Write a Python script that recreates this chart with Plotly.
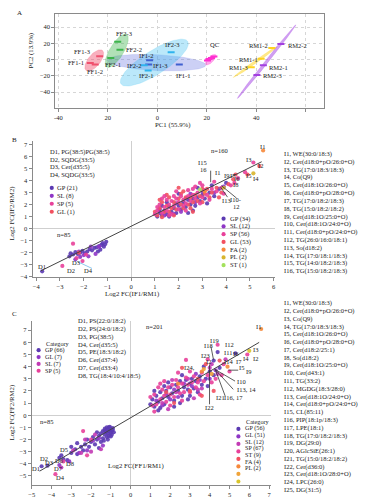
import numpy as np
import plotly.graph_objects as go

W, H = 367, 504
FONT = "Liberation Serif"
TXT = "#222222"

# ---------------- Panel A : PCA ----------------
pca_label = ["FF1-1", "FF1-2", "FF1-3", "FF2-1", "FF2-2", "FF2-3",
             "IF1-1", "IF1-2", "IF1-3", "IF2-1", "IF2-2", "IF2-3",
             "QC", "QC", "QC", "QC",
             "RM1-1", "RM1-2", "RM1-3", "RM2-1", "RM2-2", "RM2-3"]
pca_group = ["FF1", "FF1", "FF1", "FF2", "FF2", "FF2",
             "IF1", "IF1", "IF1", "IF2", "IF2", "IF2",
             "QC", "QC", "QC", "QC",
             "RM1", "RM1", "RM1", "RM2", "RM2", "RM2"]
pca_pc1 = [-27.1, -25.1, -23.3, -18.8, -15.1, -16.0,
           8.9, -3.1, -3.5, -3.7, -5.3, 5.6,
           20.3, 20.9, 21.9, 22.9,
           42.0, 46.3, 38.0, 42.9, 50.0, 40.3]
pca_pc2 = [-4.1, -6.1, 4.1, 2.0, 12.3, 22.0,
           -6.1, -0.8, -6.0, -13.5, -7.0, 9.0,
           -1.2, 0.8, 2.0, 4.0,
           1.2, 14.3, -9.4, -7.0, 19.2, -18.8]

# confidence ellipses: centre and two semi-axis vectors (data units)
ell_group = ["IF1", "IF2", "FF2", "FF1", "QC", "RM1", "RM2"]
ell_cx = [-0.4, -1.2, -16.4, -25.5, 21.6, 39.6, 44.2]
ell_cy = [-3.7, -3.7, 11.0, -1.0, 0.0, -3.0, -2.5]
ell_ux = [20.0, 13.5, 4.0, 3.3, 2.0, 8.8, 11.8]
ell_uy = [-3.0, 26.2, 20.2, 12.4, 6.1, 19.0, 45.4]
ell_vx = [0.0, 2.6, 2.4, 1.9, 0.8, 0.5, 0.5]
ell_vy = [9.8, -12.4, -4.4, -4.6, -2.5, -1.0, -1.1]

# ---------------- Panel B : IF1/RM1 vs IF2/RM2 ----------------
b_neg_gp = [(-3.75, -3.55), (-2.6, -2.3), (-2.55, -2.05), (-2.45, -2.15), (-2.35, -1.95),
            (-2.25, -2.1), (-2.15, -2.0), (-2.05, -1.85), (-1.95, -2.05), (-1.85, -1.9),
            (-1.75, -1.7), (-1.65, -1.8), (-1.55, -1.6), (-1.45, -1.55), (-1.4, -1.9),
            (-1.35, -1.45), (-1.3, -1.75), (-1.25, -1.35), (-1.2, -1.2), (-1.15, -1.5),
            (-1.1, -1.3), (-1.05, -1.1)]
b_neg_sl = [(-2.15, -2.35), (-2.0, -2.2), (-1.5, -2.1), (-1.8, -2.3), (-2.2, -1.9),
            (-1.35, -1.5), (-2.35, -2.55), (-1.7, -1.5)]
b_neg_sp = [(-2.45, -1.25), (-2.9, -3.1), (-2.05, -2.7), (-2.3, -2.45), (-1.9, -2.15)]
b_neg_gl = [(-2.2, -2.0)]

b_pos_gp = [(1.1, 1.0), (1.2, 1.3), (1.3, 1.1), (1.4, 1.5), (1.5, 1.2), (1.6, 1.0), (1.7, 1.4),
            (1.8, 1.7), (1.9, 1.3), (2.0, 1.9), (2.1, 1.6), (2.2, 2.2), (2.3, 1.8), (2.4, 2.4),
            (2.5, 2.0), (2.6, 2.5), (2.7, 1.9), (2.8, 2.6), (2.9, 2.3), (3.0, 2.8), (3.1, 2.5),
            (3.3, 3.0), (3.5, 2.7), (3.7, 3.3), (2.0, 2.9), (1.3, 1.9), (1.5, 2.2), (2.6, 1.5),
            (3.2, 2.1), (1.2, 1.6), (2.4, 1.3), (2.8, 3.4), (4.0, 3.8), (3.4, 3.6)]
b_pos_sl = [(1.2, 1.4), (1.6, 1.8), (1.9, 2.1), (2.3, 2.5), (2.7, 2.2), (3.0, 3.1), (1.4, 1.1),
            (2.1, 1.4), (2.5, 2.9), (3.5, 3.0), (1.8, 1.2), (3.9, 3.5)]
b_pos_sp = [(1.0, 1.2), (1.1, 1.5), (1.2, 2.0), (1.3, 1.3), (1.4, 1.8), (1.5, 1.5), (1.5, 2.4),
            (1.6, 2.0), (1.7, 1.2), (1.7, 2.3), (1.8, 1.9), (1.9, 2.5), (2.0, 1.6), (2.0, 2.2),
            (2.1, 2.7), (2.2, 1.9), (2.2, 2.4), (2.3, 2.1), (2.4, 2.7), (2.5, 2.3), (2.6, 2.8),
            (2.7, 2.5), (2.8, 3.0), (2.9, 2.1), (3.0, 2.6), (3.1, 3.2), (3.2, 2.8), (3.4, 3.3),
            (3.6, 3.1), (3.8, 3.4), (4.2, 3.6), (4.5, 4.2), (4.8, 4.7), (3.0, 3.6), (2.4, 3.2),
            (1.3, 2.5), (1.9, 3.1), (2.7, 3.5), (3.9, 2.9), (1.6, 1.1), (2.3, 1.5), (1.1, 1.8),
            (4.35, 3.8), (3.3, 2.4), (1.8, 2.7), (2.6, 3.3), (5.15, 5.5), (1.4, 2.7), (2.9, 3.8),
            (3.5, 3.9)]
b_pos_gl = [(1.0, 1.4), (1.1, 1.1), (1.2, 1.7), (1.3, 2.2), (1.4, 1.4), (1.5, 1.9), (1.6, 2.6),
            (1.6, 1.4), (1.7, 1.7), (1.8, 2.2), (1.9, 1.6), (2.0, 2.5), (2.1, 2.0), (2.1, 2.9),
            (2.2, 1.7), (2.3, 2.6), (2.4, 2.0), (2.5, 2.6), (2.5, 1.7), (2.6, 2.2), (2.7, 2.8),
            (2.8, 2.3), (2.9, 2.7), (3.0, 2.2), (3.1, 2.9), (3.2, 3.3), (3.3, 2.6), (3.4, 3.0),
            (3.6, 3.4), (3.8, 3.0), (4.1, 3.7), (4.3, 4.1), (3.0, 3.3), (2.2, 3.1), (1.5, 2.8),
            (1.2, 2.4), (2.6, 1.4), (3.7, 2.6), (5.4, 5.2), (4.9, 4.5), (4.4, 4.5), (2.0, 3.4),
            (1.8, 1.1), (1.3, 0.95)]
b_pos_fa = [(5.56, 6.5), (3.1, 3.1)]
b_pos_pl = [(5.15, 4.6), (3.9, 3.4)]
b_pos_st = [(2.9, 3.25)]
b_fit = (0.975, 0.2, -3.8, 5.5)   # slope, intercept, x from, x to

b_d_list = ["D1, PG(38:5)PG(38:5)", "D2, SQDG(33:5)", "D3, Cer(d35:5)", "D4, SQDG(33:5)"]
b_leg_left = ["GP (21)", "SL (8)", "SP (5)", "GL (1)"]
b_leg_right = ["GP (34)", "SL (12)", "SP (56)", "GL (53)", "FA (2)", "PL (2)", "ST (1)"]
b_i_list = ["I1, WE(30:0/18:3)", "I2, Cer(d18:0+pO/26:0+O)", "I3, TG(17:0/18:3/18:3)", "I4, Co(Q9)",
            "I5, Cer(d18:1O/26:0+O)", "I6, Cer(d18:0+pO/28:0+O)", "I7, TG(17:0/18:2/18:3)",
            "I8, TG(15:0/18:2/18:2)", "I9, Cer(d18:1O/25:0+O)", "I10, Cer(d18:1O/24:0+O)",
            "I11, Cer(d18:0+pO/24:0+O)", "I12, TG(26:0/16:0/18:1)", "I13, So(d18:2)",
            "I14, TG(17:0/18:1/18:3)", "I15, TG(14:0/18:2/18:3)", "I16, TG(15:0/18:2/18:3)"]

# ---------------- Panel C : FF1/RM1 vs FF2/RM2 ----------------
c_neg_gp = [(-4.5, -4.2), (-4.2, -4.15), (-3.6, -3.5), (-3.4, -3.6), (-3.2, -3.7), (-3.5, -3.3),
            (-3.0, -3.1), (-2.8, -2.8), (-2.7, -3.2), (-2.5, -2.6), (-2.4, -2.9), (-2.3, -2.4),
            (-2.2, -2.0), (-2.1, -2.6), (-2.0, -2.2), (-1.9, -1.8), (-1.8, -2.4), (-1.7, -2.0),
            (-1.6, -2.7), (-1.6, -1.7), (-1.5, -2.2), (-1.5, -1.5), (-1.4, -1.9), (-1.4, -1.3),
            (-1.3, -1.6), (-1.3, -1.1), (-1.25, -1.4), (-1.2, -1.8), (-1.2, -1.2), (-1.15, -1.5),
            (-1.1, -1.0), (-1.1, -1.3), (-1.1, -1.7), (-1.05, -1.2), (-1.0, -1.45), (-1.0, -1.1),
            (-0.95, -1.3), (-0.95, -1.6), (-0.9, -1.05), (-0.9, -1.2), (-0.85, -1.4), (-1.2, -1.0),
            (-1.3, -1.25), (-1.0, -1.75), (-1.15, -2.0), (-1.35, -2.1), (-1.7, -1.4), (-2.7, -2.3),
            (-3.0, -2.6), (-1.05, -0.95)]
c_neg_gl = [(-3.6, -4.1), (-3.1, -3.8), (-2.2, -2.9), (-1.9, -2.1), (-1.4, -2.5), (-2.6, -3.1),
            (-1.6, -1.9)]
c_neg_sl = [(-2.5, -3.1), (-2.0, -3.0), (-1.8, -1.6), (-2.9, -2.9), (-3.5, -4.3), (-2.3, -2.0),
            (-1.5, -2.8)]
c_neg_sp = [(-2.4, -1.3), (-3.8, -4.85), (-2.2, -3.3), (-3.4, -3.8), (-2.0, -2.0)]

c_pos_gp = [(1.0, 0.9), (1.1, 1.3), (1.2, 0.7), (1.3, 1.6), (1.4, 1.1), (1.5, 1.9), (1.6, 1.4),
            (1.7, 0.9), (1.8, 2.0), (1.9, 1.5), (2.0, 2.3), (2.1, 1.8), (2.2, 1.2), (2.3, 2.5),
            (2.4, 2.0), (2.5, 2.8), (2.6, 1.6), (2.7, 2.3), (2.8, 2.9), (2.9, 2.1), (3.0, 2.6),
            (3.1, 3.0), (3.2, 2.2), (3.3, 2.8), (3.5, 3.2), (3.6, 2.5), (3.8, 3.0), (4.0, 3.6),
            (4.2, 3.3), (2.2, 0.7), (2.9, 1.3), (3.4, 1.9), (1.5, 0.6), (1.2, 2.0), (2.6, 3.3),
            (4.4, 5.2), (5.3, 5.1), (4.2, 4.5), (3.7, 4.0), (1.9, 2.7), (2.5, 1.0), (3.0, 1.6),
            (1.4, 0.4), (3.9, 2.4), (1.7, 2.4), (4.5, 3.9)]
c_pos_gl = [(1.3, 1.2), (1.8, 1.7), (2.2, 2.1), (2.7, 2.6), (3.1, 2.4), (3.5, 2.9), (4.0, 3.0),
            (2.4, 1.5), (1.6, 0.8), (3.3, 3.4), (4.3, 3.7), (2.0, 1.3)]
c_pos_sl = [(1.6, 1.0), (2.3, 1.9), (2.9, 3.0), (3.4, 2.1), (4.0, 3.9), (4.8, 4.6), (1.9, 0.5),
            (3.6, 2.2), (2.1, 2.9), (3.2, 1.4), (4.1, 4.2), (4.4, 3.4)]
c_pos_sp = [(1.0, 1.5), (1.1, 0.8), (1.2, 1.7), (1.3, 0.9), (1.4, 2.3), (1.5, 1.3), (1.6, 2.1),
            (1.7, 1.6), (1.8, 1.1), (1.9, 2.3), (2.0, 1.7), (2.1, 2.5), (2.2, 1.5), (2.3, 2.9),
            (2.4, 2.3), (2.5, 1.8), (2.6, 2.6), (2.7, 1.9), (2.8, 3.1), (2.9, 2.5), (3.0, 1.9),
            (3.1, 2.7), (3.2, 3.2), (3.3, 2.3), (3.4, 2.7), (3.6, 3.5), (3.7, 2.8), (3.9, 3.3),
            (4.1, 2.7), (4.3, 3.0), (2.8, 4.55), (1.7, 2.8), (2.4, 3.5), (1.2, 0.3), (3.5, 1.7),
            (4.4, 5.8), (5.9, 5.0), (4.7, 4.2), (5.0, 3.6), (3.9, 4.6), (2.0, 0.8), (3.0, 3.6),
            (1.5, 2.6), (2.6, 1.2), (4.6, 3.3)]
c_pos_st = [(3.4, 3.0), (3.8, 4.2), (2.2, 1.0), (4.5, 4.5), (3.0, 2.0), (3.6, 1.6), (4.2, 2.0),
            (2.6, 3.9), (1.8, 1.9)]
c_pos_fa = [(6.6, 7.1), (3.6, 3.6), (4.9, 4.0), (2.4, 2.6)]
c_pos_pl = [(3.7, 3.8), (4.1, 3.4)]
c_pos_yl = [(6.0, 5.3)]
c_fit = (0.955, -0.21, -4.6, 6.5)

c_d_list = ["D1, PS(22:0/18:2)", "D2, PS(24:0/18:2)", "D3, PG(38:5)", "D4, Cer(d35:5)",
            "D5, PE(18:3/18:2)", "D6, Cer(d37:4)", "D7, Cer(d33:4)", "D8, TG(18:4/10:4/18:5)"]
c_leg_left = ["GP (66)", "GL (7)", "SL (7)", "SP (5)"]
c_leg_right = ["GP (56)", "GL (51)", "SL (12)", "SP (67)", "ST (9)", "FA (4)", "PL (2)"]
c_i_list = ["I1, WE(30:0/18:3)", "I2, Cer(d18:0+pO/26:0+O)", "I3, Co(Q9)", "I4, TG(17:0/18:3/18:3)",
            "I5, Cer(d18:1O/26:0+O)", "I6, Cer(d18:0+pO/28:0+O)", "I7, Cer(d18:2/25:1)",
            "I8, So(d18:2)", "I9, Cer(d18:1O/25:0+O)", "I10, Cer(d43:1)", "I11, TG(33:2)",
            "I12, MGDG(18:3/28:0)", "I13, Cer(d18:1O/24:0+O)", "I14, Cer(d18:0+pO/24:0+O)",
            "I15, CL(85:11)", "I16, PIP(18:1p/18:3)", "I17, LPE(18:1)", "I18, TG(17:0/18:2/18:3)",
            "I19, DG(29:0)", "I20, AGlcSiE(26:1)", "I21, TG(15:0/18:2/18:2)", "I22, Cer(d36:0)",
            "I23, Cer(d18:1O/28:0+O)", "I24, LPC(26:0)", "I25, DG(31:5)"]

# ---------------- styling ----------------
grp_col = {"FF1": "#f0506e", "FF2": "#3cb44b", "IF1": "#3f5fd0", "IF2": "#2fb4ee",
           "QC": "#ff2fd0", "RM1": "#ffd21f", "RM2": "#a23fe0"}
ell_fill = {"FF1": "rgba(240,80,110,0.45)", "FF2": "rgba(60,180,75,0.40)",
            "IF1": "rgba(110,120,225,0.35)", "IF2": "rgba(60,190,240,0.35)",
            "QC": "rgba(255,60,210,0.45)", "RM1": "rgba(255,215,40,0.55)",
            "RM2": "rgba(170,80,230,0.55)"}
C_GP, C_GL2, C_SL, C_SP, C_GL, C_FA, C_PL, C_ST = ("#5b3ab2", "#8f36c6", "#c23ab4", "#e8409a",
                                                    "#f2505f", "#f6883a", "#d8b52e", "#a3e15c")


def P(x):
    return x / W


def Q(y):
    return 1 - y / H


fig = go.Figure()

# --- Panel A ---
t = np.linspace(0, 2 * np.pi, 90)
for g, cx, cy, ux, uy, vx, vy in zip(ell_group, ell_cx, ell_cy, ell_ux, ell_uy, ell_vx, ell_vy):
    fig.add_trace(go.Scatter(x=cx + ux * np.cos(t) + vx * np.sin(t),
                             y=cy + uy * np.cos(t) + vy * np.sin(t),
                             mode="lines", fill="toself", fillcolor=ell_fill[g],
                             line=dict(color=ell_fill[g], width=0.5),
                             xaxis="x", yaxis="y", showlegend=False, hoverinfo="skip"))
for g in ["FF1", "FF2", "IF1", "IF2", "QC", "RM1", "RM2"]:
    idx = [i for i, gg in enumerate(pca_group) if gg == g]
    fig.add_trace(go.Scatter(x=[pca_pc1[i] for i in idx], y=[pca_pc2[i] for i in idx],
                             mode="markers", text=[pca_label[i] for i in idx],
                             marker=dict(symbol="line-ew", size=5,
                                         line=dict(width=2, color=grp_col[g])),
                             xaxis="x", yaxis="y", showlegend=False))


def pts(series, col, ax, size=4.2):
    fig.add_trace(go.Scatter(x=[p[0] for p in series], y=[p[1] for p in series], mode="markers",
                             marker=dict(color=col, size=size, opacity=0.9, line=dict(width=0)),
                             xaxis="x" + ax, yaxis="y" + ax, showlegend=False))


def fit_line(fit, ax):
    k, b, x0, x1 = fit
    fig.add_trace(go.Scatter(x=[x0, x1], y=[k * x0 + b, k * x1 + b], mode="lines",
                             line=dict(color="#444444", width=1),
                             xaxis="x" + ax, yaxis="y" + ax, showlegend=False))


# --- Panel B ---
for s, c in [(b_neg_gp, C_GP), (b_neg_sl, C_GL2), (b_neg_sp, C_SP), (b_neg_gl, C_GL),
             (b_pos_gp, C_GP), (b_pos_sl, C_GL2), (b_pos_gl, C_GL), (b_pos_sp, C_SP),
             (b_pos_fa, C_FA), (b_pos_pl, C_PL), (b_pos_st, C_ST)]:
    pts(s, c, "2")
fit_line(b_fit, "2")

# --- Panel C ---
for s, c in [(c_neg_gp, C_GP), (c_neg_gl, C_GL2), (c_neg_sl, C_SL), (c_neg_sp, C_SP),
             (c_pos_gp, C_GP), (c_pos_gl, C_GL2), (c_pos_sl, C_SL), (c_pos_sp, C_SP),
             (c_pos_st, C_GL), (c_pos_fa, C_FA), (c_pos_pl, "#f0a43a"), (c_pos_yl, "#d9c52c")]:
    pts(s, c, "3")
fit_line(c_fit, "3")

ann = []
shapes = []


def txt(x, y, s, size=6.5, xa="left", xref="paper", yref="paper", ya="middle", angle=0):
    ann.append(dict(x=x, y=y, xref=xref, yref=yref, text=s, showarrow=False, xanchor=xa,
                    yanchor=ya, textangle=angle,
                    font=dict(family=FONT, size=size, color=TXT)))


def ptxt(xp, yp, s, size=6.5, xa="left", angle=0):
    txt(P(xp), Q(yp), s, size, xa, angle=angle)


def seg(ax, x0, y0, x1, y1, col="#333333", w=0.8):
    shapes.append(dict(type="line", xref="x" + ax, yref="y" + ax, x0=x0, y0=y0, x1=x1, y1=y1,
                       line=dict(color=col, width=w)))


def dot(xp, yp, col, r=2.1):
    shapes.append(dict(type="circle", xref="paper", yref="paper", x0=P(xp - r), x1=P(xp + r),
                       y0=Q(yp + r), y1=Q(yp - r), fillcolor=col, line=dict(width=0)))


# panel letters
ptxt(12, 13, "A", 7)
ptxt(7, 141, "B", 7)
ptxt(7, 316, "C", 7)

# Panel A labels (data coords)
a_lbl = [("FF2-3", -13.6, 32, "center"), ("FF2-2", -13.6, 12, "left"), ("FF1-3", -30.4, 9.8, "center"),
         ("FF1-1", -29.0, -3.7, "right"), ("FF2-1", -22.0, -6.0, "left"), ("FF1-2", -25.0, -15.0, "center"),
         ("IF1-2", -4.4, 4.9, "center"), ("IF2-2", -9.6, -7.4, "center"), ("IF1-3", 1.2, -7.4, "center"),
         ("IF2-1", -4.4, -19.6, "center"), ("IF2-3", 6.0, 18.4, "center"), ("IF1-1", 10.4, -19.6, "center"),
         ("QC", 23.2, 18.4, "center"), ("RM1-2", 45.6, 17.0, "right"), ("RM2-2", 52.0, 17.0, "left"),
         ("RM1-1", 41.6, 0.0, "right"), ("RM2-1", 44.4, -9.8, "left"), ("RM1-3", 37.6, -9.8, "right"),
         ("RM2-3", 42.0, -19.6, "left")]
for s, x, y, a in a_lbl:
    txt(x, y, s, 6.5, a, "x", "y")
ptxt(172, 126, "PC1 (55.9%)", 6.8, "center")
ptxt(28, 51, "PC2 (13.9%)", 6.8, "center", angle=-90)

# Panel B texts
for i, s in enumerate(b_d_list):
    ptxt(45, 153 + i * 7.7, s)
for i, (s, c) in enumerate(zip(b_leg_left, [C_GP, C_GL2, C_SP, C_GL])):
    dot(49.3, 189 + i * 8, c)
    ptxt(53, 189 + i * 8, s)
for i, (s, c) in enumerate(zip(b_leg_right, [C_GP, C_GL2, C_SP, C_GL, C_FA, C_PL, C_ST])):
    dot(223, 220 + i * 7.8, c)
    ptxt(227, 220 + i * 7.8, s)
for i, s in enumerate(b_i_list):
    ptxt(282, 155 + i * 7.85, s)
ptxt(53, 236, "n=85")
ptxt(208, 151, "n=160")
ptxt(130, 296, "Log2 FC(IF1/RM1)", 6.8, "center")
ptxt(9, 215, "Log2 FC(IF2/RM2)", 6.8, "center", angle=-90)
b_lbl = [("I1", 5.52, 6.86), ("I3", 4.94, 5.79), ("I2", 5.44, 5.29), ("I5", 4.94, 4.38),
         ("I4", 5.27, 4.21), ("I6", 4.48, 4.13), ("I8", 4.40, 3.64), ("I9", 4.02, 4.45),
         ("I7", 4.3, 4.45), ("I1", 3.64, 4.7), ("I15", 3.0, 5.5), ("16", 3.05, 4.9),
         ("I13", 4.0, 2.3), ("I10-", 4.4, 2.4), ("12", 4.43, 1.8),
         ("D1", -3.77, -3.14), ("D2", -2.52, -3.47), ("D3", -2.31, -2.8), ("D4", -1.81, -3.47)]
for s, x, y in b_lbl:
    txt(x, y, s, 6.5, "center", "x2", "y2")
seg("2", 3.35, 3.86, 3.35, 4.82)
seg("2", 3.77, 3.45, 4.06, 2.62)
seg("2", 3.8, 3.58, 4.44, 2.54)
seg("2", -2.27, -2.73, -1.65, -3.31, "#6fb7e8")

# Panel C texts
for i, s in enumerate(c_d_list):
    ptxt(74, 323 + i * 7.86, s)
ptxt(41, 346, "Category", 6.2)
for i, (s, c) in enumerate(zip(c_leg_left, [C_GP, C_GL2, C_SL, C_SP])):
    dot(36, 352.3 + i * 6.9, c)
    ptxt(40, 352.3 + i * 6.9, s, 6.2)
ptxt(244, 424.5, "Category", 6.2)
for i, c in enumerate([C_GP, C_GL2, C_SL, C_SP, C_GL, C_FA, "#f0a43a", "#d9c52c"]):
    dot(238, 431.5 + i * 7.55, c)
for i, s in enumerate(c_leg_right):
    ptxt(243, 431 + i * 6.7, s, 6.2)
for i, s in enumerate(c_i_list):
    ptxt(282, 305 + i * 7.83, s)
ptxt(35, 424, "n=85")
ptxt(143, 328, "n=201")
ptxt(134, 469, "Log2 FC(FF1/RM1)", 6.8, "center")
ptxt(9, 415, "Log2 FC(FF2/RM2)", 6.8, "center", angle=-90)
c_lbl = [("I1", 6.25, 7.3, "left"), ("I19", 4.23, 6.18, "center"), ("I18", 3.93, 5.78, "center"),
         ("I12", 4.68, 5.86, "left"), ("I11", 4.6, 5.2, "left"), ("I6", 5.1, 5.1, "left"),
         ("I3", 6.1, 5.45, "left"), ("I4", 5.6, 4.7, "left"), ("I2", 6.1, 4.65, "left"),
         ("I7", 5.25, 4.45, "left"), ("I23", 3.8, 4.9, "center"), ("I5", 5.4, 3.95, "left"),
         ("I9", 5.75, 3.6, "left"), ("I24,", 3.0, 3.9, "center"), ("I10", 5.3, 2.8, "left"),
         ("I13, 14", 5.3, 2.1, "left"), ("I16, 17", 4.6, 1.5, "left"), ("I21", 4.2, 1.5, "left"),
         ("I22", 4.0, 0.63, "center"), ("I2", 3.95, 4.45, "center"), ("I14", 4.6, 4.45, "left"),
         ("D5", -3.38, -2.8, "center"), ("D2", -4.37, -3.6, "center"), ("D3", -4.1, -3.86, "center"),
         ("D6", -3.57, -3.7, "center"), ("D1", -4.78, -4.4, "center"), ("D7", -3.62, -4.4, "center"),
         ("D8", -3.07, -4.0, "center"), ("D4", -3.52, -5.16, "center")]
for s, x, y, a in c_lbl:
    txt(x, y, s, 6.5, a, "x3", "y3")
seg("3", 3.99, 0.9, 3.99, 4.17)
seg("3", 4.06, 5.67, 4.19, 4.58)
seg("3", 4.28, 3.76, 5.28, 2.81)
seg("3", 4.28, 3.76, 5.19, 2.13)
seg("3", 4.28, 3.76, 4.78, 1.59)
seg("3", 4.94, 3.71, 5.44, 3.71)

tf = dict(family=FONT, size=6.5, color=TXT)
ax_common = dict(showline=True, linecolor="#8a8a8a", linewidth=1, ticks="outside", ticklen=3,
                 tickcolor="#8a8a8a", tickfont=tf, fixedrange=True)

fig.update_layout(
    width=W, height=H, margin=dict(l=0, r=0, t=0, b=0),
    paper_bgcolor="white", plot_bgcolor="white", showlegend=False,
    xaxis=dict(domain=[P(53), P(325)], range=[-41.2, 67.6], tickvals=[-40, -20, 0, 20, 40, 60],
               ticktext=["-40", "20", "0", "20", "40", ""], mirror=True, showgrid=True,
               gridcolor="#d6d6d6", griddash="dot", zeroline=False, anchor="y", **ax_common),
    yaxis=dict(domain=[Q(109), Q(14)], range=[-60.1, 56.4], tickvals=[-40, -20, 0, 20, 40],
               mirror=True, showgrid=True, gridcolor="#d6d6d6", griddash="dot", zeroline=False,
               anchor="x", **ax_common),
    xaxis2=dict(domain=[P(30), P(274.5)], range=[-4.15, 6.04], tickvals=list(range(-4, 7)),
                showgrid=False, zeroline=True, zerolinecolor="#cfcfcf", zerolinewidth=1,
                anchor="y2", **ax_common),
    yaxis2=dict(domain=[Q(278.4), Q(141.7)], range=[-4, 7.3], tickvals=list(range(-4, 8)),
                showgrid=False, zeroline=True, zerolinecolor="#cfcfcf", zerolinewidth=1,
                anchor="x2", **ax_common),
    xaxis3=dict(domain=[P(29), P(271)], range=[-5, 7.1], tickvals=list(range(-5, 8)),
                showgrid=False, zeroline=True, zerolinecolor="#cfcfcf", zerolinewidth=1,
                anchor="y3", **ax_common),
    yaxis3=dict(domain=[Q(488), Q(323)], range=[-5.75, 7.75], tickvals=list(range(-5, 8)),
                showgrid=False, zeroline=True, zerolinecolor="#cfcfcf", zerolinewidth=1,
                anchor="x3", **ax_common),
    annotations=ann, shapes=shapes,
)

fig.write_html("out.html", config={"displayModeBar": False},
               post_script="document.body.style.margin='0px';document.body.style.overflow='hidden';")
